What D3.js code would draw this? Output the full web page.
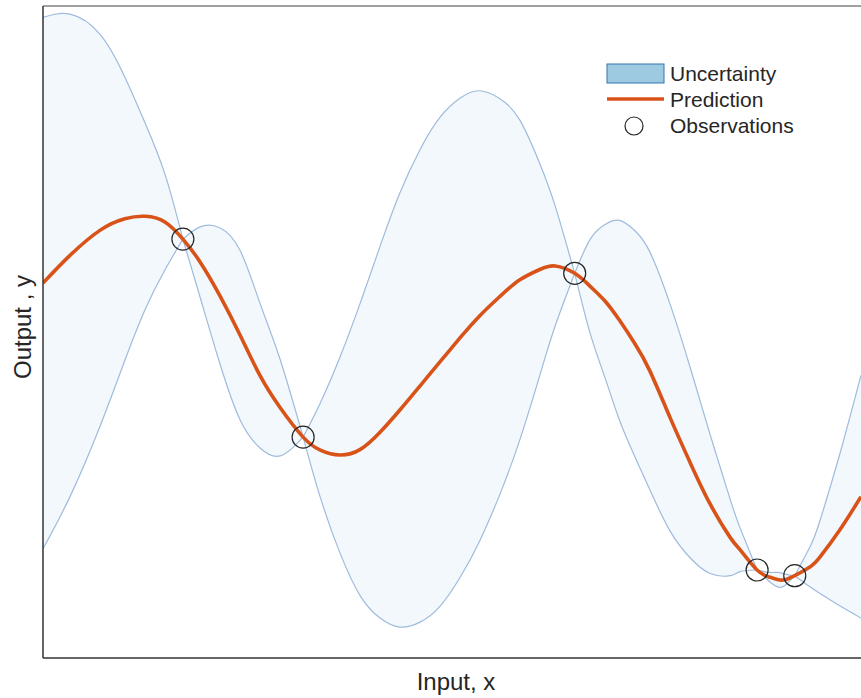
<!DOCTYPE html>
<html>
<head>
<meta charset="utf-8">
<script src="https://cdn.jsdelivr.net/npm/d3@7"></script>
<style>
  html, body { margin: 0; padding: 0; background: #fff; }
  svg { display: block; }
  text { font-family: "Liberation Sans", Arial, Helvetica, sans-serif; fill: #262626; }
</style>
</head>
<body>
<svg id="chart" width="861" height="698"></svg>
<script>
// Observed samples (noise-free, the band pinches to zero at each)
const obsX = [1.71, 3.18, 6.50, 8.73, 9.19];
const obsY = [1.14, -1.29, 0.72, -2.92, -2.99];

// Evaluation grid
const gridX = [0, 0.33, 0.70, 1.00, 1.25, 1.49, 1.71, 1.92, 2.16, 2.41, 2.65, 2.90, 3.18, 3.39, 3.63, 3.88,
  4.12, 4.36, 4.61, 4.85, 5.10, 5.34, 5.59, 5.83, 6.08, 6.26, 6.50, 6.69, 6.87, 7.05, 7.24, 7.42,
  7.67, 7.91, 8.15, 8.40, 8.52, 8.73, 8.89, 8.99, 9.07, 9.19, 9.38, 9.50, 9.74, 10.00];

// Posterior mean on the grid
const meanY = [0.60, 0.94, 1.25, 1.39, 1.42, 1.35, 1.14, 0.86, 0.45, -0.04, -0.53, -0.93, -1.29, -1.45, -1.51, -1.44,
  -1.23, -0.96, -0.66, -0.37, -0.07, 0.20, 0.44, 0.64, 0.77, 0.81, 0.72, 0.56, 0.38, 0.14, -0.15, -0.48,
  -1.06, -1.60, -2.10, -2.52, -2.67, -2.92, -3.01, -3.04, -3.04, -2.99, -2.88, -2.76, -2.43, -2.02];

// Half-width of the uncertainty band on the grid
const bandHalf = [3.26, 2.96, 2.40, 1.74, 1.14, 0.59, 0, 0.43, 0.83, 1.04, 0.89, 0.59, 0, 0.58, 1.20, 1.80,
  2.28, 2.66, 2.90, 3.00, 2.94, 2.76, 2.42, 1.96, 1.28, 0.74, 0, 0.58, 0.94, 1.23, 1.39, 1.46,
  1.39, 1.17, 0.86, 0.47, 0.27, 0, 0.06, 0.09, 0.07, 0, 0.25, 0.45, 0.93, 1.49];

const legendLabels = ["Uncertainty", "Prediction", "Observations"];
const xLabel = "Input, x";
const yLabel = "Output , y";

const svg = d3.select("#chart");
const m = { left: 43, top: 6, bottom: 658, right: 861 };

const x = d3.scaleLinear().domain([0, 10]).range([m.left, m.right]);
const y = d3.scaleLinear().domain([-4, 4]).range([m.bottom, m.top]);

svg.append("defs").append("clipPath").attr("id", "plotClip")
  .append("rect").attr("x", m.left).attr("y", m.top)
  .attr("width", m.right - m.left + 40).attr("height", m.bottom - m.top);

const plot = svg.append("g").attr("clip-path", "url(#plotClip)");

// Break the grid into stretches between observations, where the band pinches
const stretches = [];
{
  let cur = [];
  gridX.forEach((gx, i) => {
    cur.push(i);
    if (i > 0 && i < gridX.length - 1 && bandHalf[i] === 0) {
      stretches.push(cur);
      cur = [i];
    }
  });
  stretches.push(cur);
}

const line = d3.line().x(d => x(d[0])).y(d => y(d[1])).curve(d3.curveNatural);

const upperOf = idx => idx.map(i => [gridX[i], meanY[i] + bandHalf[i]]);
const lowerOf = idx => idx.map(i => [gridX[i], meanY[i] - bandHalf[i]]);

// Band fill
stretches.forEach(idx => {
  const up = upperOf(idx);
  const lo = lowerOf(idx).reverse();
  const d = line(up) + "L" + line(lo).slice(1) + "Z";
  plot.append("path").attr("d", d).attr("fill", "#f2f8fc").attr("stroke", "none");
});

// Band edges
stretches.forEach(idx => {
  [upperOf(idx), lowerOf(idx)].forEach(p => {
    plot.append("path").attr("d", line(p))
      .attr("fill", "none").attr("stroke", "#9fbbdc").attr("stroke-width", 1.2);
  });
});

// Mean prediction
const meanPts = gridX.map((v, i) => [v, meanY[i]]);
plot.append("path").attr("d", line(meanPts))
  .attr("fill", "none").attr("stroke", "#d95319").attr("stroke-width", 3.6)
  .attr("stroke-linejoin", "round");

// Observations
plot.selectAll("circle.obs").data(obsX.map((v, i) => [v, obsY[i]])).join("circle")
  .attr("class", "obs")
  .attr("cx", d => x(d[0])).attr("cy", d => y(d[1])).attr("r", 11)
  .attr("fill", "none").attr("stroke", "#262626").attr("stroke-width", 1.2);

// Axes frame
svg.append("line").attr("x1", m.left).attr("x2", m.right).attr("y1", m.top).attr("y2", m.top)
  .attr("stroke", "#a0a0a0").attr("stroke-width", 2);
svg.append("line").attr("x1", m.left).attr("x2", m.left).attr("y1", m.top).attr("y2", m.bottom)
  .attr("stroke", "#333").attr("stroke-width", 1.5);
svg.append("line").attr("x1", m.left).attr("x2", m.right).attr("y1", m.bottom).attr("y2", m.bottom)
  .attr("stroke", "#333").attr("stroke-width", 1.5);

// Axis labels
svg.append("text").attr("x", 456).attr("y", 690).attr("text-anchor", "middle")
  .attr("font-size", 24).text(xLabel);
svg.append("text").attr("transform", "translate(31,327) rotate(-90)").attr("text-anchor", "middle")
  .attr("font-size", 24).text(yLabel);

// Legend
const lg = svg.append("g");
lg.append("rect").attr("x", 607).attr("y", 64).attr("width", 57).attr("height", 19)
  .attr("fill", "#9ecae1").attr("stroke", "#3474b5").attr("stroke-width", 1);
lg.append("line").attr("x1", 607).attr("x2", 664).attr("y1", 99).attr("y2", 99)
  .attr("stroke", "#d95319").attr("stroke-width", 3.6);
lg.append("circle").attr("cx", 634).attr("cy", 126).attr("r", 9)
  .attr("fill", "none").attr("stroke", "#262626").attr("stroke-width", 1.2);
legendLabels.forEach((t, i) => {
  lg.append("text").attr("x", 670).attr("y", 81 + i * 26).attr("font-size", 21).text(t);
});
</script>
</body>
</html>
